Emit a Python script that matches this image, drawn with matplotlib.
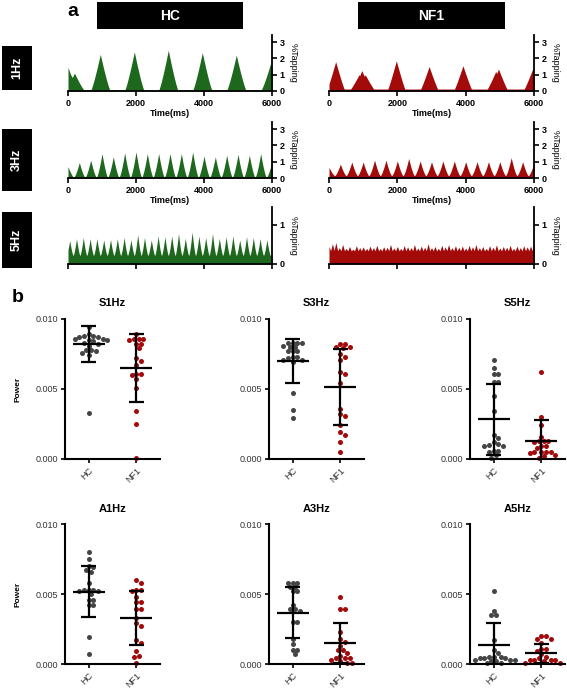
import numpy as np
import matplotlib
matplotlib.use("Agg")
import matplotlib.pyplot as plt
from matplotlib.patches import Rectangle

plt.rcParams['font.family'] = ['Liberation Sans', 'DejaVu Sans']

# ---------------- panel a: tapping traces ----------------
time_ticks = [0, 2000, 4000, 6000]

# peak times (ms) and peak heights (%Tapping)
hc_1hz_t = [0, 80, 190, 950, 1950, 2950, 3950, 4950, 5960]
hc_1hz_h = [1.45, 1.0, 1.1, 2.25, 2.4, 2.5, 2.35, 2.2, 1.7]
nf1_1hz_t = [20, 195, 880, 960, 1060, 1970, 2930, 3920, 4880, 4960, 5960]
nf1_1hz_h = [0.4, 1.8, 1.0, 1.25, 1.0, 1.85, 1.5, 1.55, 1.2, 1.35, 1.35]

hz3_t = [0, 333, 667, 1000, 1333, 1667, 2000, 2333, 2667, 3000,
         3333, 3667, 4000, 4333, 4667, 5000, 5333, 5667, 6000]
hc_3hz_h = [0.7, 0.95, 1.1, 1.5, 1.3, 1.55, 1.6, 1.5, 1.5, 1.5,
            1.5, 1.6, 1.35, 1.3, 1.4, 1.45, 1.4, 1.5, 1.0]
nf1_3hz_h = [0.65, 0.85, 0.98, 0.98, 1.1, 1.1, 1.05, 1.2, 1.05, 1.0,
             1.05, 1.05, 1.0, 1.0, 1.0, 1.0, 1.25, 1.0, 0.9]

hz5_t = [50, 250, 450, 650, 850, 1050, 1250, 1450, 1650, 1850,
         2050, 2250, 2450, 2650, 2850, 3050, 3250, 3450, 3650, 3850,
         4050, 4250, 4450, 4650, 4850, 5050, 5250, 5450, 5650, 5850]
hc_5hz_h = [0.6, 0.65, 0.68, 0.65, 0.65, 0.62, 0.63, 0.65, 0.68, 0.62,
            0.75, 0.68, 0.62, 0.72, 0.70, 0.72, 0.78, 0.66, 0.82, 0.72,
            0.68, 0.78, 0.66, 0.70, 0.72, 0.62, 0.70, 0.68, 0.65, 0.62]
# NF1 5Hz is a noisy plateau: small bumps every 100 ms
nf1_5hz_t = [0, 100, 200, 300, 400, 500, 600, 700, 800, 900,
             1000, 1100, 1200, 1300, 1400, 1500, 1600, 1700, 1800, 1900,
             2000, 2100, 2200, 2300, 2400, 2500, 2600, 2700, 2800, 2900,
             3000, 3100, 3200, 3300, 3400, 3500, 3600, 3700, 3800, 3900,
             4000, 4100, 4200, 4300, 4400, 4500, 4600, 4700, 4800, 4900,
             5000, 5100, 5200, 5300, 5400, 5500, 5600, 5700, 5800, 5900, 6000]
nf1_5hz_h = [0.45, 0.52, 0.55, 0.42, 0.50, 0.40, 0.45, 0.38, 0.47, 0.42,
             0.44, 0.40, 0.46, 0.42, 0.48, 0.40, 0.44, 0.43, 0.50, 0.41,
             0.45, 0.40, 0.47, 0.44, 0.42, 0.50, 0.41, 0.46, 0.43, 0.52,
             0.42, 0.45, 0.40, 0.48, 0.44, 0.50, 0.42, 0.47, 0.43, 0.46,
             0.41, 0.48, 0.44, 0.50, 0.42, 0.45, 0.40, 0.47, 0.43, 0.49,
             0.41, 0.45, 0.43, 0.48, 0.40, 0.46, 0.42, 0.47, 0.44, 0.46, 0.50]

# ---------------- panel b: power per subject ----------------
groups = ["HC", "NF1"]
titles = ["S1Hz", "S3Hz", "S5Hz", "A1Hz", "A3Hz", "A5Hz"]

s1_hc = [0.0094, 0.0089, 0.0088, 0.0088, 0.0087, 0.0087, 0.0086, 0.0086, 0.0085, 0.0085,
         0.0084, 0.0083, 0.0082, 0.0081, 0.0078, 0.0078, 0.0077, 0.0076, 0.0074, 0.0033]
s1_nf1 = [0.0089, 0.0086, 0.0086, 0.0086, 0.0085, 0.0082, 0.0082, 0.0079, 0.0072, 0.0070,
          0.0067, 0.0061, 0.0061, 0.0060, 0.0057, 0.0051, 0.00345, 0.0025, 0.00005]
s3_hc = [0.0083, 0.0083, 0.0083, 0.0083, 0.0081, 0.0080, 0.0080, 0.0077, 0.0077, 0.0077,
         0.0073, 0.0073, 0.0072, 0.0071, 0.0071, 0.0069, 0.0047, 0.0035, 0.0029]
s3_nf1 = [0.0082, 0.0082, 0.0080, 0.0080, 0.0079, 0.0075, 0.0073, 0.0071, 0.0062, 0.0061,
          0.0054, 0.0036, 0.0032, 0.0031, 0.0024, 0.0019, 0.0017, 0.0012, 0.0005]
s5_hc = [0.0071, 0.0065, 0.0061, 0.0061, 0.0055, 0.0055, 0.0045, 0.0034, 0.0017, 0.0015,
         0.0012, 0.0011, 0.0010, 0.0009, 0.0009, 0.0006, 0.0006, 0.0005, 0.0003, 0.0001]
s5_nf1 = [0.0062, 0.0030, 0.0024, 0.0016, 0.0013, 0.0013, 0.0013, 0.0012, 0.0009, 0.0009,
          0.0008, 0.0005, 0.0005, 0.0005, 0.0005, 0.0004, 0.0003, 0.0002, 0.0001]
a1_hc = [0.0080, 0.0075, 0.0070, 0.0069, 0.0067, 0.0066, 0.0058, 0.0053, 0.0053, 0.0053,
         0.0052, 0.0052, 0.0050, 0.0046, 0.0046, 0.0042, 0.0042, 0.0019, 0.0007]
a1_nf1 = [0.0060, 0.0058, 0.0053, 0.0053, 0.0052, 0.0048, 0.0044, 0.0044, 0.0039, 0.0039,
          0.0033, 0.0029, 0.0027, 0.0017, 0.0015, 0.0009, 0.0006, 0.0005, 0.0001]
a3_hc = [0.0058, 0.0058, 0.0058, 0.0055, 0.0055, 0.0052, 0.0052, 0.0042, 0.0039, 0.0039,
         0.0038, 0.0030, 0.0030, 0.0018, 0.0014, 0.0010, 0.0010, 0.0007]
a3_nf1 = [0.0048, 0.0039, 0.0039, 0.0023, 0.0018, 0.0016, 0.0013, 0.0010, 0.0010, 0.0008,
          0.0006, 0.0004, 0.0004, 0.0004, 0.0003, 0.0002, 0.0001, 0.0001]
a5_hc = [0.0052, 0.0038, 0.0035, 0.0035, 0.0017, 0.0010, 0.0008, 0.0005, 0.0005, 0.0005,
         0.0004, 0.0004, 0.0004, 0.0003, 0.0003, 0.0003, 0.0002, 0.0002, 0.0001, 0.0001]
a5_nf1 = [0.0020, 0.0020, 0.0018, 0.0018, 0.0015, 0.0011, 0.0011, 0.0009, 0.0007, 0.0005,
          0.0004, 0.0003, 0.0003, 0.0003, 0.0003, 0.0002, 0.0001, 0.0001]

# mean and SD [HC, NF1]
means = [[0.0082, 0.0065], [0.0070, 0.00514], [0.00283, 0.0013],
         [0.00517, 0.0033], [0.00367, 0.0015], [0.00136, 0.00076]]
sds = [[0.00128, 0.0024], [0.00158, 0.0027], [0.00255, 0.0015],
       [0.0018, 0.00192], [0.0018, 0.0014], [0.0016, 0.0007]]

GREEN = "#1d681d"
RED = "#a30b0b"
GREY = "#454545"


def trace(peak_t, peak_h, base, half_w, power):
    t = np.linspace(0, 6000, 2401)
    v = np.full_like(t, base)
    for tp, h in zip(peak_t, peak_h):
        bump = base + (h - base) * np.clip(1 - np.abs(t - tp) / half_w, 0, None) ** power
        v = np.maximum(v, bump)
    return t, v


def swarm_offsets(vals, dot=4.6, px_x=47.0, px_y=14000.0):
    placed = []
    offs = []
    for v in vals:
        y = v * px_y
        cands = [0.0] + [s * k * dot * 0.5 for k in range(1, 40) for s in (1, -1)]
        for x in cands:
            if all(np.hypot(x - px, y - py) >= dot for px, py in placed):
                break
        placed.append((x, y))
        offs.append(x / px_x)
    return np.array(offs)


fig = plt.figure(figsize=(5.67, 6.92), dpi=100)
W, H = 567.0, 692.0


def fig_rect(x0, y0, x1, y1):
    # pixel box (top-left origin) -> figure fraction rect
    return [x0 / W, 1 - y1 / H, (x1 - x0) / W, (y1 - y0) / H]


def black_box(x0, y0, x1, y1, label, rot=0, size=10):
    r = fig_rect(x0, y0, x1, y1)
    fig.add_artist(Rectangle((r[0], r[1]), r[2], r[3], transform=fig.transFigure,
                             facecolor="black", edgecolor="none"))
    fig.text(r[0] + r[2] / 2, r[1] + r[3] / 2, label, color="white", fontsize=size,
             fontweight="bold", ha="center", va="center", rotation=rot)


black_box(97, 2, 243, 29, "HC")
black_box(358, 2, 505, 29, "NF1")
black_box(2, 46, 32, 90, "1Hz", rot=90, size=9)
black_box(2, 129, 32, 191, "3Hz", rot=90, size=9)
black_box(2, 212, 32, 268, "5Hz", rot=90, size=9)
fig.text(73 / W, 1 - 12 / H, "a", fontsize=14, fontweight="bold", ha="center", va="center")
fig.text(18 / W, 1 - 297 / H, "b", fontsize=14, fontweight="bold", ha="center", va="center")

rows = [
    ((hc_1hz_t, hc_1hz_h, 0.07, 280, 1.2), (nf1_1hz_t, nf1_1hz_h, 0.12, 250, 1.1),
     35, 91, 3.43, [0, 1, 2, 3], True),
    ((hz3_t, hc_3hz_h, 0.05, 165, 1.4), (hz3_t, nf1_3hz_h, 0.15, 165, 1.4),
     122, 178, 3.43, [0, 1, 2, 3], True),
    ((hz5_t, hc_5hz_h, 0.22, 100, 1.4), (nf1_5hz_t, nf1_5hz_h, 0.33, 55, 1.0),
     207, 264, 1.46, [0, 1], False),
]
for (hc_spec, nf_spec, top, bot, ymax, yt, show_x) in rows:
    for (x0, x1, spec, col) in [(68, 272, hc_spec, GREEN), (329, 534, nf_spec, RED)]:
        ax = fig.add_axes(fig_rect(x0, top, x1, bot))
        t, v = trace(*spec)
        ax.fill_between(t, 0, v, color=col, lw=0)
        ax.set_xlim(0, 6000)
        ax.set_ylim(0, ymax)
        ax.spines[['top', 'left']].set_visible(False)
        ax.spines[['right', 'bottom']].set_linewidth(1.3)
        ax.yaxis.tick_right()
        ax.yaxis.set_label_position("right")
        ax.set_yticks(yt)
        ax.set_xticks(time_ticks)
        ax.tick_params(length=3.5, width=1.2, labelsize=6.5, pad=2)
        for lab in ax.get_yticklabels() + ax.get_xticklabels():
            lab.set_fontweight("bold")
        ax.set_ylabel("%Tapping", rotation=270, fontsize=6.5, labelpad=3, va="bottom")
        if show_x:
            ax.set_xlabel("Time(ms)", fontsize=6.5, fontweight="bold", labelpad=1)
        else:
            ax.set_xticklabels([])

# ---------------- scatter panels ----------------
data = [(s1_hc, s1_nf1), (s3_hc, s3_nf1), (s5_hc, s5_nf1),
        (a1_hc, a1_nf1), (a3_hc, a3_nf1), (a5_hc, a5_nf1)]
col_x = [65, 269, 470]
row_y = [(319, 459), (524, 664)]
for i, (title, pair) in enumerate(zip(titles, data)):
    r, c = divmod(i, 3)
    ax = fig.add_axes(fig_rect(col_x[c], row_y[r][0], col_x[c] + 95, row_y[r][1]))
    for g, (vals, colr) in enumerate(zip(pair, [GREY, RED])):
        vals = np.array(vals)
        ax.scatter(g + swarm_offsets(vals), vals, s=13, color=colr, lw=0, zorder=2,
                   clip_on=False)
        m, sd = means[i][g], sds[i][g]
        ax.hlines(m, g - 0.34, g + 0.34, color="black", lw=1.6, zorder=3)
        ax.vlines(g, max(m - sd, 0), m + sd, color="black", lw=1.6, zorder=3)
        ax.hlines([m + sd], g - 0.16, g + 0.16, color="black", lw=1.6, zorder=3)
        if m - sd > 0:
            ax.hlines([m - sd], g - 0.16, g + 0.16, color="black", lw=1.6, zorder=3)
    ax.set_xlim(-0.5, 1.5)
    ax.set_ylim(0, 0.010)
    ax.set_yticks([0, 0.005, 0.010])
    ax.set_yticklabels(["0.000", "0.005", "0.010"])
    ax.set_xticks([0, 1])
    ax.set_xticklabels(groups, rotation=45, ha="right", rotation_mode="anchor")
    ax.spines[['top', 'right']].set_visible(False)
    ax.spines[['left', 'bottom']].set_linewidth(1.5)
    ax.tick_params(length=3, width=1.2, labelsize=6.5, labelcolor="#333333", pad=2)
    ax.set_title(title, fontsize=8, fontweight="bold", pad=9)
    if c == 0:
        ax.set_ylabel("Power", fontsize=6, fontweight="bold", labelpad=10)

fig.savefig("out.png", dpi=100)
